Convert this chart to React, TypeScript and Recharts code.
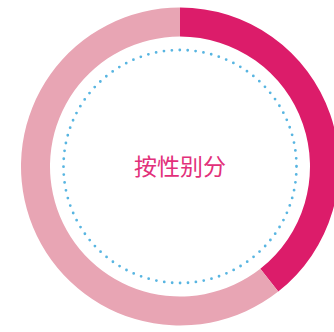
import { Cell, Label, Pie, PieChart, PolarGrid } from 'recharts'

const groups = ['男', '女']
const shares = [39.4, 60.6]
const colors = ['#dc1c6a', '#e8a5b4']
const title = '按性别分'

const data = groups.map((name, i) => ({ name, value: shares[i] }))

export default function App() {
  // chart is wider than the window so its centre lands at x=180; right edge is clipped
  return (
    <div style={{ position: 'absolute', left: 0, top: 0, width: 334, height: 332, overflow: 'hidden', background: '#fff' }}>
      <PieChart width={360} height={333} margin={{ top: 0, right: 0, bottom: 0, left: 0 }}>
        <PolarGrid
          gridType="circle"
          polarRadius={[116.5]}
          polarAngles={[]}
          radialLines={false}
          stroke="#58b5e1"
          strokeWidth={2.8}
          strokeDasharray="0 7.95"
          strokeLinecap="round"
        />
        <Pie
          data={data}
          dataKey="value"
          nameKey="name"
          innerRadius={130}
          outerRadius={159}
          startAngle={90}
          endAngle={-270}
          stroke="none"
          isAnimationActive={false}
        >
          {data.map((d, i) => (
            <Cell key={d.name} fill={colors[i]} />
          ))}
          <Label
            value={title}
            position="center"
            fill="#e2307a"
            style={{ fontFamily: '"Noto Sans CJK SC"', fontSize: 23, fontWeight: 400 }}
          />
        </Pie>
      </PieChart>
    </div>
  )
}
